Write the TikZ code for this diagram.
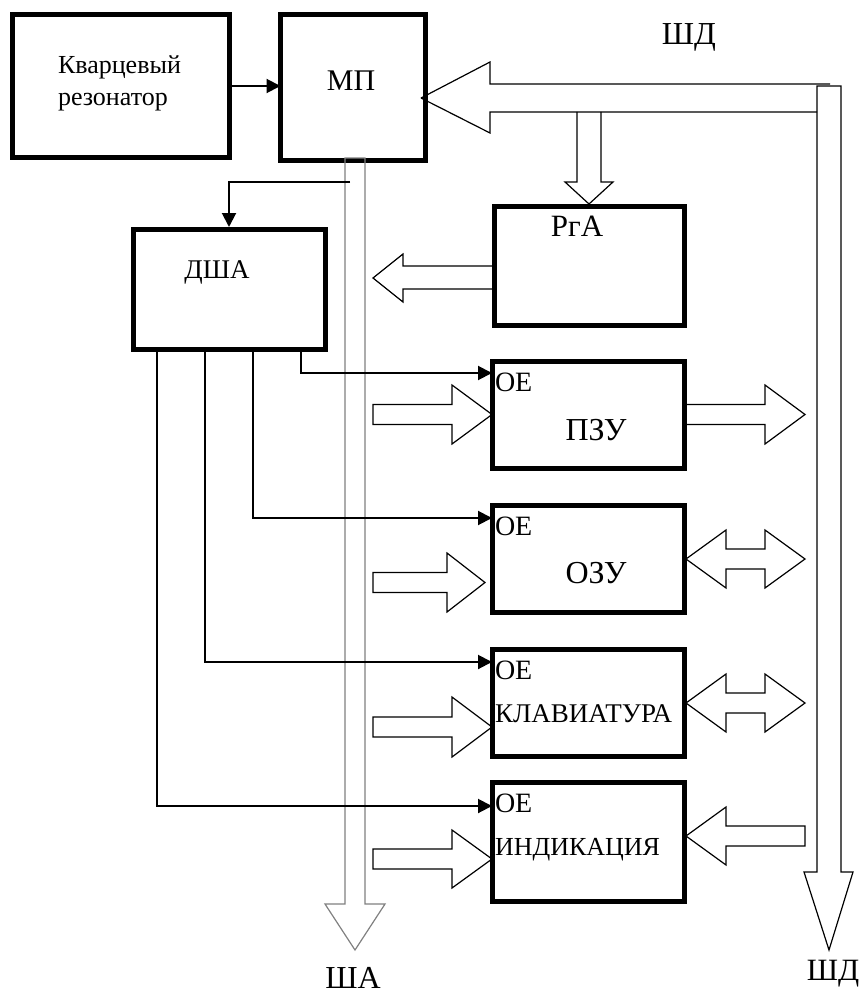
\documentclass[tikz,border=0pt]{standalone}
\usepackage{fontspec}
\setmainfont{Liberation Serif}
\usetikzlibrary{arrows.meta}
\begin{document}
\begin{tikzpicture}[x=1pt,y=-1pt,
  box/.style={draw, line width=5pt, inner sep=0pt, outer sep=0pt},
  lbl/.style={inner sep=0pt, outer sep=0pt, font=\fontsize{26}{30}\selectfont},
  biglbl/.style={inner sep=0pt, outer sep=0pt, font=\fontsize{32}{36}\selectfont},
  oelbl/.style={inner sep=0pt, outer sep=0pt, font=\fontsize{28}{32}\selectfont, anchor=base west},
  ctrl/.style={line width=2pt, -{Triangle[length=14pt,width=14pt]}},
  hollow/.style={draw, line width=1.2pt, line join=miter},
  busline/.style={draw=gray, line width=1.2pt, line join=miter}
]
\useasboundingbox (0,0) rectangle (862,995);

% boxes
\node[box, minimum width=217pt, minimum height=143pt] (kv) at (121,86) {};
\node[box, minimum width=145pt, minimum height=146pt] (mp) at (353,87.5) {};
\node[box, minimum width=192pt, minimum height=120pt] (dsha) at (229.5,289.5) {};
\node[box, minimum width=190pt, minimum height=119pt] (rga) at (589.5,266) {};
\node[box, minimum width=192pt, minimum height=107pt] (pzu) at (588.5,415) {};
\node[box, minimum width=192pt, minimum height=107pt] (ozu) at (588.5,559) {};
\node[box, minimum width=192pt, minimum height=107pt] (klav) at (588.5,703) {};
\node[box, minimum width=192pt, minimum height=119pt] (ind) at (588.5,842) {};

% texts
\node[lbl, anchor=base west] (kvt1) at (58,74) {Кварцевый};
\node[lbl, anchor=base west] (kvt2) at (58,106) {резонатор};
\node[biglbl, font=\fontsize{30}{34}\selectfont, anchor=base] (mpt) at (351,91) {МП};
\node[biglbl, anchor=base] (shdt) at (689,45) {ШД};
\node[lbl, font=\fontsize{27}{31}\selectfont, anchor=base] (dshat) at (217,278) {ДША};
\node[biglbl, font=\fontsize{31}{35}\selectfont, anchor=base] (rgat) at (577,236) {РгА};
\node[oelbl] (oe1) at (495,391) {ОЕ};
\node[biglbl, anchor=base] (pzut) at (596,440) {ПЗУ};
\node[oelbl] (oe2) at (495,535) {ОЕ};
\node[biglbl, anchor=base] (ozut) at (596,583) {ОЗУ};
\node[oelbl] (oe3) at (495,679) {ОЕ};
\node[lbl, font=\fontsize{27}{31}\selectfont, anchor=base west] (klavt) at (495,722) {КЛАВИАТУРА};
\node[oelbl] (oe4) at (495,812) {ОЕ};
\node[lbl, anchor=base west] (indt) at (495,855) {ИНДИКАЦИЯ};
\node[biglbl, anchor=base] (shat) at (353,988) {ША};
\node[biglbl, font=\fontsize{31}{35}\selectfont, anchor=base] (shdb) at (833,980) {ШД};

% address bus (ША)
\draw[busline] (345,158) -- (345,904) -- (325,904) -- (355,950) -- (385,904) -- (365,904) -- (365,158) -- cycle;

% data bus (ШД)
\draw[hollow] (421,98) -- (490,62) -- (490,84) -- (830,84);
\draw[hollow] (817,112) -- (490,112) -- (490,133) -- (421,98);
\draw[hollow] (817,86) -- (817,872) -- (804,872) -- (829,950) -- (853,872) -- (841,872) -- (841,86) -- cycle;

% ШД -> РгА
\draw[hollow] (577,112) -- (577,182) -- (565,182) -- (589,204) -- (613,182) -- (601,182) -- (601,112);
% РгА -> ША
\draw[hollow] (rga.west |- 0,266) -- (403,266) -- (403,254) -- (373,278) -- (403,302) -- (403,289) -- (rga.west |- 0,289);

% ША -> devices
\draw[hollow] (373,404.5) -- (452,404.5) -- (452,385) -- (492,414.5) -- (452,444) -- (452,424.5) -- (373,424.5) -- cycle;
\draw[hollow] (373,572.5) -- (447,572.5) -- (447,553) -- (485,582.5) -- (447,612) -- (447,592.5) -- (373,592.5) -- cycle;
\draw[hollow] (373,717) -- (452,717) -- (452,697) -- (492,727) -- (452,757) -- (452,737) -- (373,737) -- cycle;
\draw[hollow] (373,849) -- (452,849) -- (452,830) -- (492,859) -- (452,888) -- (452,869) -- (373,869) -- cycle;

% devices <-> ШД
\draw[hollow] (687,404.5) -- (765,404.5) -- (765,385) -- (805,414.5) -- (765,444) -- (765,424.5) -- (687,424.5);
\draw[hollow] (686,559) -- (726,530) -- (726,549) -- (765,549) -- (765,530) -- (805,559) -- (765,588) -- (765,569) -- (726,569) -- (726,588) -- cycle;
\draw[hollow] (686,703) -- (726,674) -- (726,693) -- (765,693) -- (765,674) -- (805,703) -- (765,732) -- (765,713) -- (726,713) -- (726,732) -- cycle;
\draw[hollow] (686,836) -- (726,807) -- (726,826) -- (805,826) -- (805,846) -- (726,846) -- (726,865) -- cycle;

% clock
\draw[ctrl] (kv.east |- 0,86) -- (mp.west |- 0,86);
% ША -> ДША
\coordinate (tap) at (350,182);
\draw[ctrl] (tap) -| (229,227);
% ДША -> OE
\draw[ctrl] (301,350) |- (492,373);
\draw[ctrl] (253,350) |- (492,518);
\draw[ctrl] (205,350) |- (492,662);
\draw[ctrl] (157,350) |- (492,806);
\end{tikzpicture}
\end{document}
